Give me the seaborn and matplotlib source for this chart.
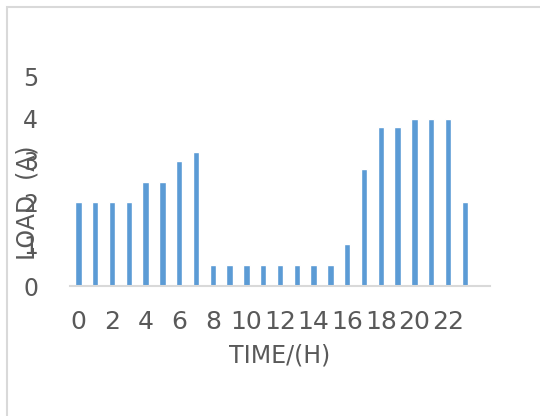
import matplotlib
matplotlib.use("Agg")
import matplotlib.pyplot as plt
import seaborn as sns
import pandas as pd
from matplotlib.patches import Rectangle

# Hourly load profile
hours = list(range(24))
load = [2.0, 2.0, 2.0, 2.0, 2.5, 2.5, 3.0, 3.2,
        0.5, 0.5, 0.5, 0.5, 0.5, 0.5, 0.5, 0.5,
        1.0, 2.8, 3.8, 3.8, 4.0, 4.0, 4.0, 2.0]
x_ticks = list(range(0, 24, 2))
y_ticks = [0, 1, 2, 3, 4, 5]

df = pd.DataFrame({"hour": hours, "load": load})

sns.set_theme(style="white")
plt.rcParams["font.family"] = ["DejaVu Sans"]
text_color = "#595959"

fig = plt.figure(figsize=(5.40, 4.16), dpi=100)
ax = fig.add_axes([70 / 540, (416 - 286) / 416, 420 / 540, 209 / 416])

sns.barplot(data=df, x="hour", y="load", color="#5B9BD5", width=0.37,
            saturation=1, ax=ax)

ax.set_xlim(-0.5, 24.5)
ax.set_ylim(0, 5)
ax.set_xticks(x_ticks)
ax.set_xticklabels([str(t) for t in x_ticks])
ax.set_yticks(y_ticks)
ax.set_yticklabels([str(t) for t in y_ticks])
ax.tick_params(axis="x", length=0, pad=17, labelsize=18, labelcolor=text_color)
ax.tick_params(axis="y", length=0, pad=23, labelsize=17, labelcolor=text_color)

for side in ("top", "right", "left"):
    ax.spines[side].set_visible(False)
ax.spines["bottom"].set_color("#D9D9D9")
ax.spines["bottom"].set_linewidth(1.5)

ax.set_xlabel("TIME/(H)", fontsize=17, color=text_color, labelpad=7)
ax.set_ylabel("LOAD  (A)", fontsize=17, color=text_color)
ax.yaxis.set_label_coords(-0.072, 0.40)

# Chart area border
fig.patches.append(Rectangle((6.5 / 540, -0.1), 1.2, (416 - 6.5) / 416 + 0.1,
                             transform=fig.transFigure, fill=False,
                             edgecolor="#D9D9D9", linewidth=1.5))

fig.savefig("out.png", dpi=100)
